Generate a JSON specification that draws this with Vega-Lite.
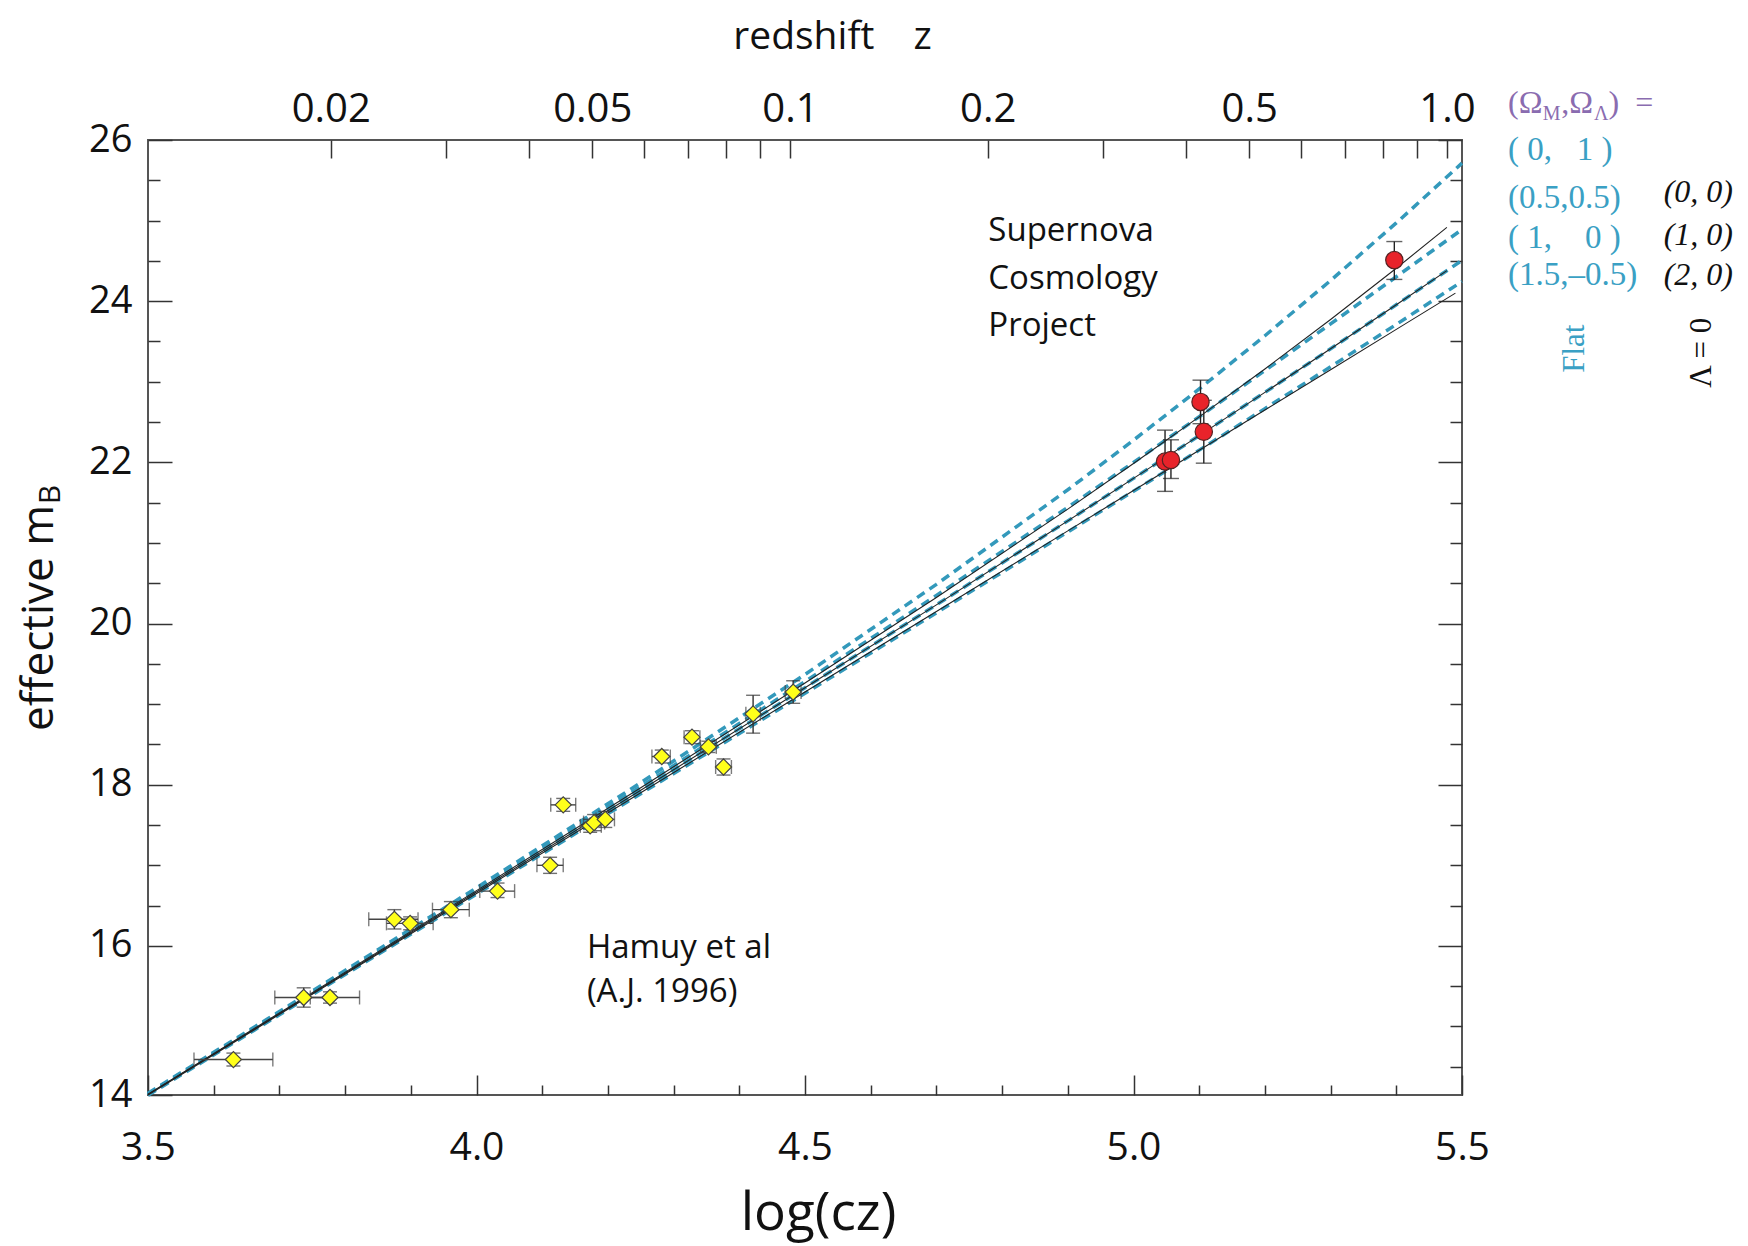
{
  "$schema": "https://vega.github.io/schema/vega-lite/v6.json",
  "width": 1314,
  "height": 955,
  "autosize": {"type": "none"},
  "padding": {"left": 148, "top": 140, "right": 286, "bottom": 151},
  "background": "white",
  "config": {
    "view": {"stroke": "#555555", "strokeWidth": 2},
    "axis": {"domain": false, "grid": false, "labelFont": "Open Sans", "titleFont": "Open Sans", "labelColor": "#111111", "titleColor": "#111111", "tickColor": "#333333", "tickWidth": 1.5, "titleFontWeight": "normal", "labelOverlap": false, "labelFlush": false}
  },
  "datasets": {
    "curves": [
      {"model": "(0,1)", "kind": "flat", "x": 3.5, "m": 14.173},
      {"model": "(0,1)", "kind": "flat", "x": 3.75, "m": 15.440},
      {"model": "(0,1)", "kind": "flat", "x": 4.0, "m": 16.721},
      {"model": "(0,1)", "kind": "flat", "x": 4.25, "m": 18.025},
      {"model": "(0,1)", "kind": "flat", "x": 4.5, "m": 19.368},
      {"model": "(0,1)", "kind": "flat", "x": 4.7, "m": 20.486},
      {"model": "(0,1)", "kind": "flat", "x": 4.9, "m": 21.660},
      {"model": "(0,1)", "kind": "flat", "x": 5.0, "m": 22.275},
      {"model": "(0,1)", "kind": "flat", "x": 5.1, "m": 22.911},
      {"model": "(0,1)", "kind": "flat", "x": 5.2, "m": 23.571},
      {"model": "(0,1)", "kind": "flat", "x": 5.3, "m": 24.257},
      {"model": "(0,1)", "kind": "flat", "x": 5.4, "m": 24.971},
      {"model": "(0,1)", "kind": "flat", "x": 5.5, "m": 25.713},
      {"model": "(0.5,0.5)", "kind": "flat", "x": 3.5, "m": 14.164},
      {"model": "(0.5,0.5)", "kind": "flat", "x": 3.75, "m": 15.425},
      {"model": "(0.5,0.5)", "kind": "flat", "x": 4.0, "m": 16.694},
      {"model": "(0.5,0.5)", "kind": "flat", "x": 4.25, "m": 17.977},
      {"model": "(0.5,0.5)", "kind": "flat", "x": 4.5, "m": 19.281},
      {"model": "(0.5,0.5)", "kind": "flat", "x": 4.7, "m": 20.348},
      {"model": "(0.5,0.5)", "kind": "flat", "x": 4.9, "m": 21.442},
      {"model": "(0.5,0.5)", "kind": "flat", "x": 5.0, "m": 22.000},
      {"model": "(0.5,0.5)", "kind": "flat", "x": 5.1, "m": 22.566},
      {"model": "(0.5,0.5)", "kind": "flat", "x": 5.2, "m": 23.139},
      {"model": "(0.5,0.5)", "kind": "flat", "x": 5.3, "m": 23.718},
      {"model": "(0.5,0.5)", "kind": "flat", "x": 5.4, "m": 24.303},
      {"model": "(0.5,0.5)", "kind": "flat", "x": 5.5, "m": 24.890},
      {"model": "(1,0)", "kind": "flat", "x": 3.5, "m": 14.156},
      {"model": "(1,0)", "kind": "flat", "x": 3.75, "m": 15.410},
      {"model": "(1,0)", "kind": "flat", "x": 4.0, "m": 16.668},
      {"model": "(1,0)", "kind": "flat", "x": 4.25, "m": 17.931},
      {"model": "(1,0)", "kind": "flat", "x": 4.5, "m": 19.204},
      {"model": "(1,0)", "kind": "flat", "x": 4.7, "m": 20.232},
      {"model": "(1,0)", "kind": "flat", "x": 4.9, "m": 21.274},
      {"model": "(1,0)", "kind": "flat", "x": 5.0, "m": 21.801},
      {"model": "(1,0)", "kind": "flat", "x": 5.1, "m": 22.332},
      {"model": "(1,0)", "kind": "flat", "x": 5.2, "m": 22.868},
      {"model": "(1,0)", "kind": "flat", "x": 5.3, "m": 23.409},
      {"model": "(1,0)", "kind": "flat", "x": 5.4, "m": 23.955},
      {"model": "(1,0)", "kind": "flat", "x": 5.5, "m": 24.506},
      {"model": "(1.5,-0.5)", "kind": "flat", "x": 3.5, "m": 14.147},
      {"model": "(1.5,-0.5)", "kind": "flat", "x": 3.75, "m": 15.395},
      {"model": "(1.5,-0.5)", "kind": "flat", "x": 4.0, "m": 16.643},
      {"model": "(1.5,-0.5)", "kind": "flat", "x": 4.25, "m": 17.889},
      {"model": "(1.5,-0.5)", "kind": "flat", "x": 4.5, "m": 19.134},
      {"model": "(1.5,-0.5)", "kind": "flat", "x": 4.7, "m": 20.133},
      {"model": "(1.5,-0.5)", "kind": "flat", "x": 4.9, "m": 21.137},
      {"model": "(1.5,-0.5)", "kind": "flat", "x": 5.0, "m": 21.642},
      {"model": "(1.5,-0.5)", "kind": "flat", "x": 5.1, "m": 22.152},
      {"model": "(1.5,-0.5)", "kind": "flat", "x": 5.2, "m": 22.667},
      {"model": "(1.5,-0.5)", "kind": "flat", "x": 5.3, "m": 23.186},
      {"model": "(1.5,-0.5)", "kind": "flat", "x": 5.4, "m": 23.712},
      {"model": "(1.5,-0.5)", "kind": "flat", "x": 5.5, "m": 24.244},
      {"model": "(0,0)", "kind": "lambda0", "x": 3.5, "m": 14.161},
      {"model": "(0,0)", "kind": "lambda0", "x": 3.75, "m": 15.420},
      {"model": "(0,0)", "kind": "lambda0", "x": 4.0, "m": 16.686},
      {"model": "(0,0)", "kind": "lambda0", "x": 4.25, "m": 17.963},
      {"model": "(0,0)", "kind": "lambda0", "x": 4.5, "m": 19.262},
      {"model": "(0,0)", "kind": "lambda0", "x": 4.7, "m": 20.324},
      {"model": "(0,0)", "kind": "lambda0", "x": 4.9, "m": 21.420},
      {"model": "(0,0)", "kind": "lambda0", "x": 5.0, "m": 21.985},
      {"model": "(0,0)", "kind": "lambda0", "x": 5.1, "m": 22.564},
      {"model": "(0,0)", "kind": "lambda0", "x": 5.2, "m": 23.159},
      {"model": "(0,0)", "kind": "lambda0", "x": 5.3, "m": 23.773},
      {"model": "(0,0)", "kind": "lambda0", "x": 5.4, "m": 24.409},
      {"model": "(0,0)", "kind": "lambda0", "x": 5.477, "m": 24.915},
      {"model": "(1,0)s", "kind": "lambda0", "x": 3.5, "m": 14.156},
      {"model": "(1,0)s", "kind": "lambda0", "x": 3.75, "m": 15.410},
      {"model": "(1,0)s", "kind": "lambda0", "x": 4.0, "m": 16.668},
      {"model": "(1,0)s", "kind": "lambda0", "x": 4.25, "m": 17.931},
      {"model": "(1,0)s", "kind": "lambda0", "x": 4.5, "m": 19.204},
      {"model": "(1,0)s", "kind": "lambda0", "x": 4.7, "m": 20.232},
      {"model": "(1,0)s", "kind": "lambda0", "x": 4.9, "m": 21.274},
      {"model": "(1,0)s", "kind": "lambda0", "x": 5.0, "m": 21.801},
      {"model": "(1,0)s", "kind": "lambda0", "x": 5.1, "m": 22.332},
      {"model": "(1,0)s", "kind": "lambda0", "x": 5.2, "m": 22.868},
      {"model": "(1,0)s", "kind": "lambda0", "x": 5.3, "m": 23.409},
      {"model": "(1,0)s", "kind": "lambda0", "x": 5.4, "m": 23.955},
      {"model": "(1,0)s", "kind": "lambda0", "x": 5.477, "m": 24.379},
      {"model": "(2,0)", "kind": "lambda0", "x": 3.5, "m": 14.15},
      {"model": "(2,0)", "kind": "lambda0", "x": 3.75, "m": 15.40},
      {"model": "(2,0)", "kind": "lambda0", "x": 4.0, "m": 16.65},
      {"model": "(2,0)", "kind": "lambda0", "x": 4.25, "m": 17.90},
      {"model": "(2,0)", "kind": "lambda0", "x": 4.5, "m": 19.15},
      {"model": "(2,0)", "kind": "lambda0", "x": 4.7, "m": 20.15},
      {"model": "(2,0)", "kind": "lambda0", "x": 4.9, "m": 21.15},
      {"model": "(2,0)", "kind": "lambda0", "x": 5.0, "m": 21.65},
      {"model": "(2,0)", "kind": "lambda0", "x": 5.1, "m": 22.15},
      {"model": "(2,0)", "kind": "lambda0", "x": 5.2, "m": 22.65},
      {"model": "(2,0)", "kind": "lambda0", "x": 5.3, "m": 23.15},
      {"model": "(2,0)", "kind": "lambda0", "x": 5.4, "m": 23.65},
      {"model": "(2,0)", "kind": "lambda0", "x": 5.49, "m": 24.10}
    ],
    "hamuy": [
      {"x": 3.630, "y": 14.59, "xlo": 3.570, "xhi": 3.690, "ylo": 14.51, "yhi": 14.67},
      {"x": 3.737, "y": 15.36, "xlo": 3.693, "xhi": 3.780, "ylo": 15.24, "yhi": 15.48},
      {"x": 3.777, "y": 15.36, "xlo": 3.747, "xhi": 3.822, "ylo": 15.29, "yhi": 15.43},
      {"x": 3.875, "y": 16.33, "xlo": 3.836, "xhi": 3.911, "ylo": 16.21, "yhi": 16.45},
      {"x": 3.899, "y": 16.28, "xlo": 3.863, "xhi": 3.934, "ylo": 16.20, "yhi": 16.36},
      {"x": 3.961, "y": 16.45, "xlo": 3.933, "xhi": 3.989, "ylo": 16.35, "yhi": 16.55},
      {"x": 4.032, "y": 16.68, "xlo": 4.005, "xhi": 4.058, "ylo": 16.60, "yhi": 16.78},
      {"x": 4.112, "y": 17.00, "xlo": 4.092, "xhi": 4.132, "ylo": 16.90, "yhi": 17.10},
      {"x": 4.132, "y": 17.75, "xlo": 4.113, "xhi": 4.151, "ylo": 17.67, "yhi": 17.83},
      {"x": 4.173, "y": 17.49, "xlo": 4.158, "xhi": 4.190, "ylo": 17.41, "yhi": 17.57},
      {"x": 4.179, "y": 17.53, "xlo": 4.163, "xhi": 4.195, "ylo": 17.43, "yhi": 17.63},
      {"x": 4.196, "y": 17.57, "xlo": 4.182, "xhi": 4.210, "ylo": 17.47, "yhi": 17.67},
      {"x": 4.282, "y": 18.35, "xlo": 4.267, "xhi": 4.295, "ylo": 18.27, "yhi": 18.43},
      {"x": 4.328, "y": 18.59, "xlo": 4.316, "xhi": 4.340, "ylo": 18.51, "yhi": 18.67},
      {"x": 4.353, "y": 18.47, "xlo": 4.341, "xhi": 4.365, "ylo": 18.40, "yhi": 18.54},
      {"x": 4.376, "y": 18.22, "xlo": 4.364, "xhi": 4.388, "ylo": 18.12, "yhi": 18.32},
      {"x": 4.421, "y": 18.88, "xlo": 4.410, "xhi": 4.432, "ylo": 18.64, "yhi": 19.11},
      {"x": 4.482, "y": 19.15, "xlo": 4.470, "xhi": 4.494, "ylo": 19.01, "yhi": 19.29}
    ],
    "scp": [
      {"x": 5.397, "y": 24.51, "ylo": 24.27, "yhi": 24.74},
      {"x": 5.102, "y": 22.75, "ylo": 22.48, "yhi": 23.02},
      {"x": 5.107, "y": 22.38, "ylo": 21.99, "yhi": 22.77},
      {"x": 5.048, "y": 22.01, "ylo": 21.64, "yhi": 22.40},
      {"x": 5.057, "y": 22.03, "ylo": 21.80, "yhi": 22.28}
    ]
  },
  "resolve": {"axis": {"x": "independent", "y": "independent"}},
  "layer": [
    {
      "data": {"name": "curves"},
      "transform": [{"filter": "datum.kind == 'flat'"}],
      "mark": {"type": "line", "color": "#3399bb", "strokeWidth": 3.5, "strokeDash": [9, 6]},
      "encoding": {
        "x": {"field": "x", "type": "quantitative", "scale": {"domain": [3.5, 5.5], "nice": false, "zero": false},
          "axis": {"orient": "bottom", "values": [3.5, 3.6, 3.7, 3.8, 3.9, 4.0, 4.1, 4.2, 4.3, 4.4, 4.5, 4.6, 4.7, 4.8, 4.9, 5.0, 5.1, 5.2, 5.3, 5.4, 5.5],
            "tickSize": {"condition": {"test": "abs(datum.value*2 - round(datum.value*2)) < 0.001", "value": -20}, "value": -10},
            "labelExpr": "abs(datum.value*2 - round(datum.value*2)) < 0.001 ? format(datum.value, '.1f') : ''",
            "labelPadding": 53, "labelFontSize": 39,
            "title": "log(cz)", "titleFontSize": 53, "titleX": 670, "titleY": 118, "titleBaseline": "middle"}},
        "y": {"field": "m", "type": "quantitative", "scale": {"domain": [14.15, 26], "nice": false, "zero": false},
          "axis": {"orient": "left", "values": [14.15, 16, 16.5, 17, 17.5, 18, 18.5, 19, 19.5, 20, 20.5, 21, 21.5, 22, 22.5, 23, 23.5, 24, 24.5, 25, 25.5, 26],
            "tickSize": {"condition": {"test": "datum.value == 14.15 || abs(datum.value/2 - round(datum.value/2)) < 0.001", "value": -24}, "value": -12},
            "labelExpr": "datum.value == 14.15 ? '14' : abs(datum.value/2 - round(datum.value/2)) < 0.001 ? format(datum.value, 'd') : ''",
            "labelPadding": 40, "labelFontSize": 38,
            "title": "effective m", "titleFontSize": 44, "titleAngle": 270, "titleX": -109, "titleY": 477.5, "titleBaseline": "middle"}},
        "detail": {"field": "model"},
        "order": {"field": "x"}
      }
    },
    {
      "data": {"name": "curves"},
      "transform": [{"filter": "datum.kind == 'lambda0'"}],
      "mark": {"type": "line", "color": "#222222", "strokeWidth": 1.1},
      "encoding": {
        "x": {"field": "x", "type": "quantitative", "scale": {"domain": [3.5, 5.5], "nice": false, "zero": false},
          "axis": {"orient": "top", "values": [3.77815, 3.95424, 4.07918, 4.17609, 4.25527, 4.32222, 4.38021, 4.43136, 4.47712, 4.77815, 4.95424, 5.07918, 5.17609, 5.25527, 5.32222, 5.38021, 5.43136, 5.47712],
            "tickSize": -18,
            "labelExpr": "datum.value == 3.77815 ? '0.02' : datum.value == 4.17609 ? '0.05' : datum.value == 4.47712 ? '0.1' : datum.value == 4.77815 ? '0.2' : datum.value == 5.17609 ? '0.5' : datum.value == 5.47712 ? '1.0' : ''",
            "labelPadding": 29, "labelFontSize": 40,
            "title": "redshift\u2002\u2002z", "titleFontSize": 39, "titleX": 684, "titleY": -104, "titleBaseline": "middle"}},
        "y": {"field": "m", "type": "quantitative", "scale": {"domain": [14.15, 26], "nice": false, "zero": false},
          "axis": {"orient": "right", "values": [14.5, 15, 15.5, 16, 16.5, 17, 17.5, 18, 18.5, 19, 19.5, 20, 20.5, 21, 21.5, 22, 22.5, 23, 23.5, 24, 24.5, 25, 25.5, 26],
            "tickSize": {"condition": {"test": "abs(datum.value/2 - round(datum.value/2)) < 0.001", "value": -24}, "value": -12},
            "labels": false, "title": null}},
        "detail": {"field": "model"},
        "order": {"field": "x"}
      }
    },
    {
      "data": {"name": "hamuy"},
      "mark": {"type": "rule", "color": "#444444", "strokeWidth": 1.4},
      "encoding": {
        "x": {"field": "xlo", "type": "quantitative", "axis": null},
        "x2": {"field": "xhi"},
        "y": {"field": "y", "type": "quantitative", "axis": null}
      }
    },
    {
      "data": {"name": "hamuy"},
      "transform": [{"fold": ["xlo", "xhi"], "as": ["k", "xc"]}],
      "mark": {"type": "tick", "orient": "vertical", "color": "#444444", "thickness": 1.4, "size": 14},
      "encoding": {
        "x": {"field": "xc", "type": "quantitative", "axis": null},
        "y": {"field": "y", "type": "quantitative", "axis": null}
      }
    },
    {
      "data": {"name": "hamuy"},
      "mark": {"type": "rule", "color": "#333333", "strokeWidth": 1.4},
      "encoding": {
        "x": {"field": "x", "type": "quantitative", "axis": null},
        "y": {"field": "ylo", "type": "quantitative", "axis": null},
        "y2": {"field": "yhi"}
      }
    },
    {
      "data": {"name": "hamuy"},
      "transform": [{"fold": ["ylo", "yhi"], "as": ["k", "yc"]}],
      "mark": {"type": "tick", "orient": "horizontal", "color": "#333333", "thickness": 1.4, "size": 14},
      "encoding": {
        "x": {"field": "x", "type": "quantitative", "axis": null},
        "y": {"field": "yc", "type": "quantitative", "axis": null}
      }
    },
    {
      "data": {"name": "scp"},
      "mark": {"type": "rule", "color": "#222222", "strokeWidth": 1.4},
      "encoding": {
        "x": {"field": "x", "type": "quantitative", "axis": null},
        "y": {"field": "ylo", "type": "quantitative", "axis": null},
        "y2": {"field": "yhi"}
      }
    },
    {
      "data": {"name": "scp"},
      "transform": [{"fold": ["ylo", "yhi"], "as": ["k", "yc"]}],
      "mark": {"type": "tick", "orient": "horizontal", "color": "#222222", "thickness": 1.4, "size": 16},
      "encoding": {
        "x": {"field": "x", "type": "quantitative", "axis": null},
        "y": {"field": "yc", "type": "quantitative", "axis": null}
      }
    },
    {
      "data": {"name": "hamuy"},
      "mark": {"type": "point", "shape": "diamond", "filled": true, "fill": "#ffff1a", "stroke": "#444444", "strokeWidth": 1.2, "size": 260, "opacity": 1},
      "encoding": {
        "x": {"field": "x", "type": "quantitative", "axis": null},
        "y": {"field": "y", "type": "quantitative", "axis": null}
      }
    },
    {
      "data": {"name": "scp"},
      "mark": {"type": "point", "shape": "circle", "filled": true, "fill": "#e8232a", "stroke": "#552222", "strokeWidth": 1.2, "size": 300, "opacity": 1},
      "encoding": {
        "x": {"field": "x", "type": "quantitative", "axis": null},
        "y": {"field": "y", "type": "quantitative", "axis": null}
      }
    },
    {
      "data": {"values": [
        {"t": "Supernova", "x": 4.779, "y": 24.87},
        {"t": "Cosmology", "x": 4.779, "y": 24.28},
        {"t": "Project", "x": 4.779, "y": 23.69},
        {"t": "Hamuy et al", "x": 4.168, "y": 15.98},
        {"t": "(A.J. 1996)", "x": 4.168, "y": 15.43}
      ]},
      "mark": {"type": "text", "font": "Open Sans", "fontSize": 33, "align": "left", "baseline": "middle", "color": "#111111"},
      "encoding": {
        "x": {"field": "x", "type": "quantitative", "axis": null},
        "y": {"field": "y", "type": "quantitative", "axis": null},
        "text": {"field": "t"}
      }
    },
    {
      "data": {"values": [
        {"t": "(Ω", "x": 5.570, "y": 26.335},
        {"t": ",Ω", "x": 5.651, "y": 26.335},
        {"t": ")\u2002=", "x": 5.723, "y": 26.335}
      ]},
      "mark": {"type": "text", "font": "Liberation Serif", "fontSize": 32, "align": "left", "baseline": "alphabetic", "color": "#8a6cb0"},
      "encoding": {
        "x": {"field": "x", "type": "quantitative", "axis": null},
        "y": {"field": "y", "type": "quantitative", "axis": null},
        "text": {"field": "t"}
      }
    },
    {
      "data": {"values": [
        {"t": "M", "x": 5.623, "y": 26.25},
        {"t": "Λ", "x": 5.701, "y": 26.25}
      ]},
      "mark": {"type": "text", "font": "Liberation Serif", "fontSize": 20, "align": "left", "baseline": "alphabetic", "color": "#8a6cb0"},
      "encoding": {
        "x": {"field": "x", "type": "quantitative", "axis": null},
        "y": {"field": "y", "type": "quantitative", "axis": null},
        "text": {"field": "t"}
      }
    },
    {
      "data": {"values": [
        {"t": "(\u00a00,\u2002\u00a01\u00a0)", "x": 5.570, "y": 25.88},
        {"t": "(0.5,0.5)", "x": 5.570, "y": 25.28},
        {"t": "(\u00a01,\u2002\u20020\u00a0)", "x": 5.570, "y": 24.79},
        {"t": "(1.5,–0.5)", "x": 5.570, "y": 24.33}
      ]},
      "mark": {"type": "text", "font": "Liberation Serif", "fontSize": 33, "align": "left", "baseline": "middle", "color": "#3aa0c4"},
      "encoding": {
        "x": {"field": "x", "type": "quantitative", "axis": null},
        "y": {"field": "y", "type": "quantitative", "axis": null},
        "text": {"field": "t"}
      }
    },
    {
      "data": {"values": [
        {"t": "(0, 0)", "x": 5.807, "y": 25.36},
        {"t": "(1, 0)", "x": 5.807, "y": 24.82},
        {"t": "(2, 0)", "x": 5.807, "y": 24.32}
      ]},
      "mark": {"type": "text", "font": "Liberation Serif", "fontSize": 32, "fontStyle": "italic", "align": "left", "baseline": "middle", "color": "#111111"},
      "encoding": {
        "x": {"field": "x", "type": "quantitative", "axis": null},
        "y": {"field": "y", "type": "quantitative", "axis": null},
        "text": {"field": "t"}
      }
    },
    {
      "data": {"values": [{"t": "Flat", "x": 5.672, "y": 23.41}]},
      "mark": {"type": "text", "font": "Liberation Serif", "fontSize": 31, "angle": 270, "align": "center", "baseline": "middle", "color": "#3aa0c4"},
      "encoding": {
        "x": {"field": "x", "type": "quantitative", "axis": null},
        "y": {"field": "y", "type": "quantitative", "axis": null},
        "text": {"field": "t"}
      }
    },
    {
      "data": {"values": [{"t": "Λ = 0", "x": 5.865, "y": 23.36}]},
      "mark": {"type": "text", "font": "Liberation Serif", "fontSize": 31, "angle": 270, "align": "center", "baseline": "middle", "color": "#111111"},
      "encoding": {
        "x": {"field": "x", "type": "quantitative", "axis": null},
        "y": {"field": "y", "type": "quantitative", "axis": null},
        "text": {"field": "t"}
      }
    },
    {
      "data": {"values": [{"t": "B", "x": 3.353, "y": 21.6}]},
      "mark": {"type": "text", "font": "Open Sans", "fontSize": 30, "angle": 270, "align": "center", "baseline": "middle", "color": "#111111"},
      "encoding": {
        "x": {"field": "x", "type": "quantitative", "axis": null},
        "y": {"field": "y", "type": "quantitative", "axis": null},
        "text": {"field": "t"}
      }
    }
  ]
}
